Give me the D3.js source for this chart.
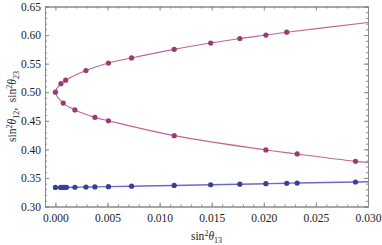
<!DOCTYPE html>
<html>
<head>
<meta charset="utf-8">
<script src="https://cdn.jsdelivr.net/npm/d3@7"></script>
<style>
    body { margin: 0; background: #fff; }
    svg text { font-family: "Liberation Serif", "Times New Roman", serif; fill: #222; }
</style>
</head>
<body>
<div id="chart"></div>
<script>
// values
const upperX = [0, 0.00053, 0.00098, 0.00293, 0.00509, 0.00731, 0.0114, 0.0149, 0.0177, 0.0202, 0.0222];
const upperY = [0.500, 0.515, 0.521, 0.538, 0.551, 0.560, 0.575, 0.586, 0.594, 0.600, 0.605];
const lowerX = [0.00075, 0.00187, 0.00379, 0.00509, 0.0114, 0.0202, 0.0232, 0.0288];
const lowerY = [0.481, 0.469, 0.456, 0.450, 0.424, 0.399, 0.392, 0.379];
const blueX = [0, 0.0005, 0.00069, 0.00088, 0.00107, 0.00187, 0.00293, 0.00379, 0.00509, 0.00731,
    0.0114, 0.0149, 0.0177, 0.0202, 0.0222, 0.0232, 0.0288];
const blueY = [0.3333, 0.3334, 0.3334, 0.3334, 0.3335, 0.3337, 0.3340, 0.3343, 0.3347, 0.3355,
    0.3368, 0.3381, 0.3390, 0.3399, 0.3407, 0.3410, 0.3429];
// curve ends at the right frame
const upperEnd = [0.030, 0.622];
const lowerEnd = [0.030, 0.377];
const blueEnd = [0.030, 0.3433];

const xTicks = [0, 0.005, 0.010, 0.015, 0.020, 0.025, 0.030];
const yTicks = [0.30, 0.35, 0.40, 0.45, 0.50, 0.55, 0.60, 0.65];

const width = 382, height = 245;
const margin = { left: 45, right: 14, top: 6.5, bottom: 38.5 };

const svg = d3.select('#chart').append('svg')
    .attr('width', width)
    .attr('height', height);

const x = d3.scaleLinear().domain([-0.001, 0.030]).range([margin.left, width - margin.right]);
const y = d3.scaleLinear().domain([0.30, 0.65]).range([height - margin.bottom, margin.top]);

const xMinor = d3.range(-1, 31).map(i => i / 1000);
const yMinor = d3.range(30, 66).map(i => i / 100);

const frameColor = '#8a8a8a';

function styleAxis(g) {
    g.select('.domain').attr('stroke', frameColor);
    g.selectAll('.tick line').attr('stroke', frameColor);
    g.selectAll('.tick text').attr('font-size', 11.5).attr('fill', '#222');
}

// minor ticks first
svg.append('g').attr('transform', `translate(0,${y.range()[0]})`)
    .call(d3.axisBottom(x).tickValues(xMinor).tickSize(-2).tickFormat(''))
    .call(styleAxis);
svg.append('g').attr('transform', `translate(0,${y.range()[1]})`)
    .call(d3.axisTop(x).tickValues(xMinor).tickSize(-2).tickFormat(''))
    .call(styleAxis);
svg.append('g').attr('transform', `translate(${x.range()[0]},0)`)
    .call(d3.axisLeft(y).tickValues(yMinor).tickSize(-2).tickFormat(''))
    .call(styleAxis);
svg.append('g').attr('transform', `translate(${x.range()[1]},0)`)
    .call(d3.axisRight(y).tickValues(yMinor).tickSize(-2).tickFormat(''))
    .call(styleAxis);

// major ticks
svg.append('g').attr('transform', `translate(0,${y.range()[0]})`)
    .call(d3.axisBottom(x).tickValues(xTicks).tickSize(-4).tickPadding(7).tickFormat(d3.format('.3f')))
    .call(styleAxis);
svg.append('g').attr('transform', `translate(0,${y.range()[1]})`)
    .call(d3.axisTop(x).tickValues(xTicks).tickSize(-4).tickFormat(''))
    .call(styleAxis);
svg.append('g').attr('transform', `translate(${x.range()[0]},0)`)
    .call(d3.axisLeft(y).tickValues(yTicks).tickSize(-4).tickPadding(4).tickFormat(d3.format('.2f')))
    .call(styleAxis);
svg.append('g').attr('transform', `translate(${x.range()[1]},0)`)
    .call(d3.axisRight(y).tickValues(yTicks).tickSize(-4).tickFormat(''))
    .call(styleAxis);

const purpleLine = '#c0649a';
const purpleDot = '#993d71';
const blueLine = '#6a6acc';
const blueDot = '#3d3d99';

const upper = upperX.map((v, i) => [v, upperY[i]]);
const lower = lowerX.map((v, i) => [v, lowerY[i]]);
const blue = blueX.map((v, i) => [v, blueY[i]]);

const line = d3.line()
    .x(d => x(d[0]))
    .y(d => y(d[1]))
    .curve(d3.curveCatmullRom.alpha(0.5));

const purplePath = [upperEnd, ...upper.slice().reverse(), ...lower, lowerEnd];

svg.append('path')
    .datum(purplePath)
    .attr('d', line)
    .attr('fill', 'none')
    .attr('stroke', purpleLine)
    .attr('stroke-width', 1.1);

svg.append('path')
    .datum([...blue, blueEnd])
    .attr('d', line)
    .attr('fill', 'none')
    .attr('stroke', blueLine)
    .attr('stroke-width', 1.4);

svg.append('g').selectAll('circle')
    .data([...upper, ...lower])
    .join('circle')
    .attr('cx', d => x(d[0]))
    .attr('cy', d => y(d[1]))
    .attr('r', 2.6)
    .attr('fill', purpleDot);

svg.append('g').selectAll('circle')
    .data(blue)
    .join('circle')
    .attr('cx', d => x(d[0]))
    .attr('cy', d => y(d[1]))
    .attr('r', 2.6)
    .attr('fill', blueDot);

// axis labels
const xLabel = svg.append('text')
    .attr('x', (x.range()[0] + x.range()[1]) / 2)
    .attr('y', 240)
    .attr('text-anchor', 'middle')
    .attr('font-size', 11.5);
xLabel.append('tspan').text('sin');
xLabel.append('tspan').attr('dy', -4).attr('font-size', 8).text('2');
xLabel.append('tspan').attr('dy', 4).attr('font-style', 'italic').text('θ');
xLabel.append('tspan').attr('dy', 2.5).attr('font-size', 8).text('13');

const yLabel = svg.append('text')
    .attr('transform', `translate(16,${(y.range()[0] + y.range()[1]) / 2}) rotate(-90)`)
    .attr('text-anchor', 'middle')
    .attr('font-size', 11.5);
yLabel.append('tspan').text('sin');
yLabel.append('tspan').attr('dy', -4).attr('font-size', 8).text('2');
yLabel.append('tspan').attr('dy', 4).attr('font-style', 'italic').text('θ');
yLabel.append('tspan').attr('dy', 2.5).attr('font-size', 8).text('12');
yLabel.append('tspan').attr('dy', -2.5).text(',\u00a0\u00a0sin');
yLabel.append('tspan').attr('dy', -4).attr('font-size', 8).text('2');
yLabel.append('tspan').attr('dy', 4).attr('font-style', 'italic').text('θ');
yLabel.append('tspan').attr('dy', 2.5).attr('font-size', 8).text('23');
</script>
</body>
</html>
